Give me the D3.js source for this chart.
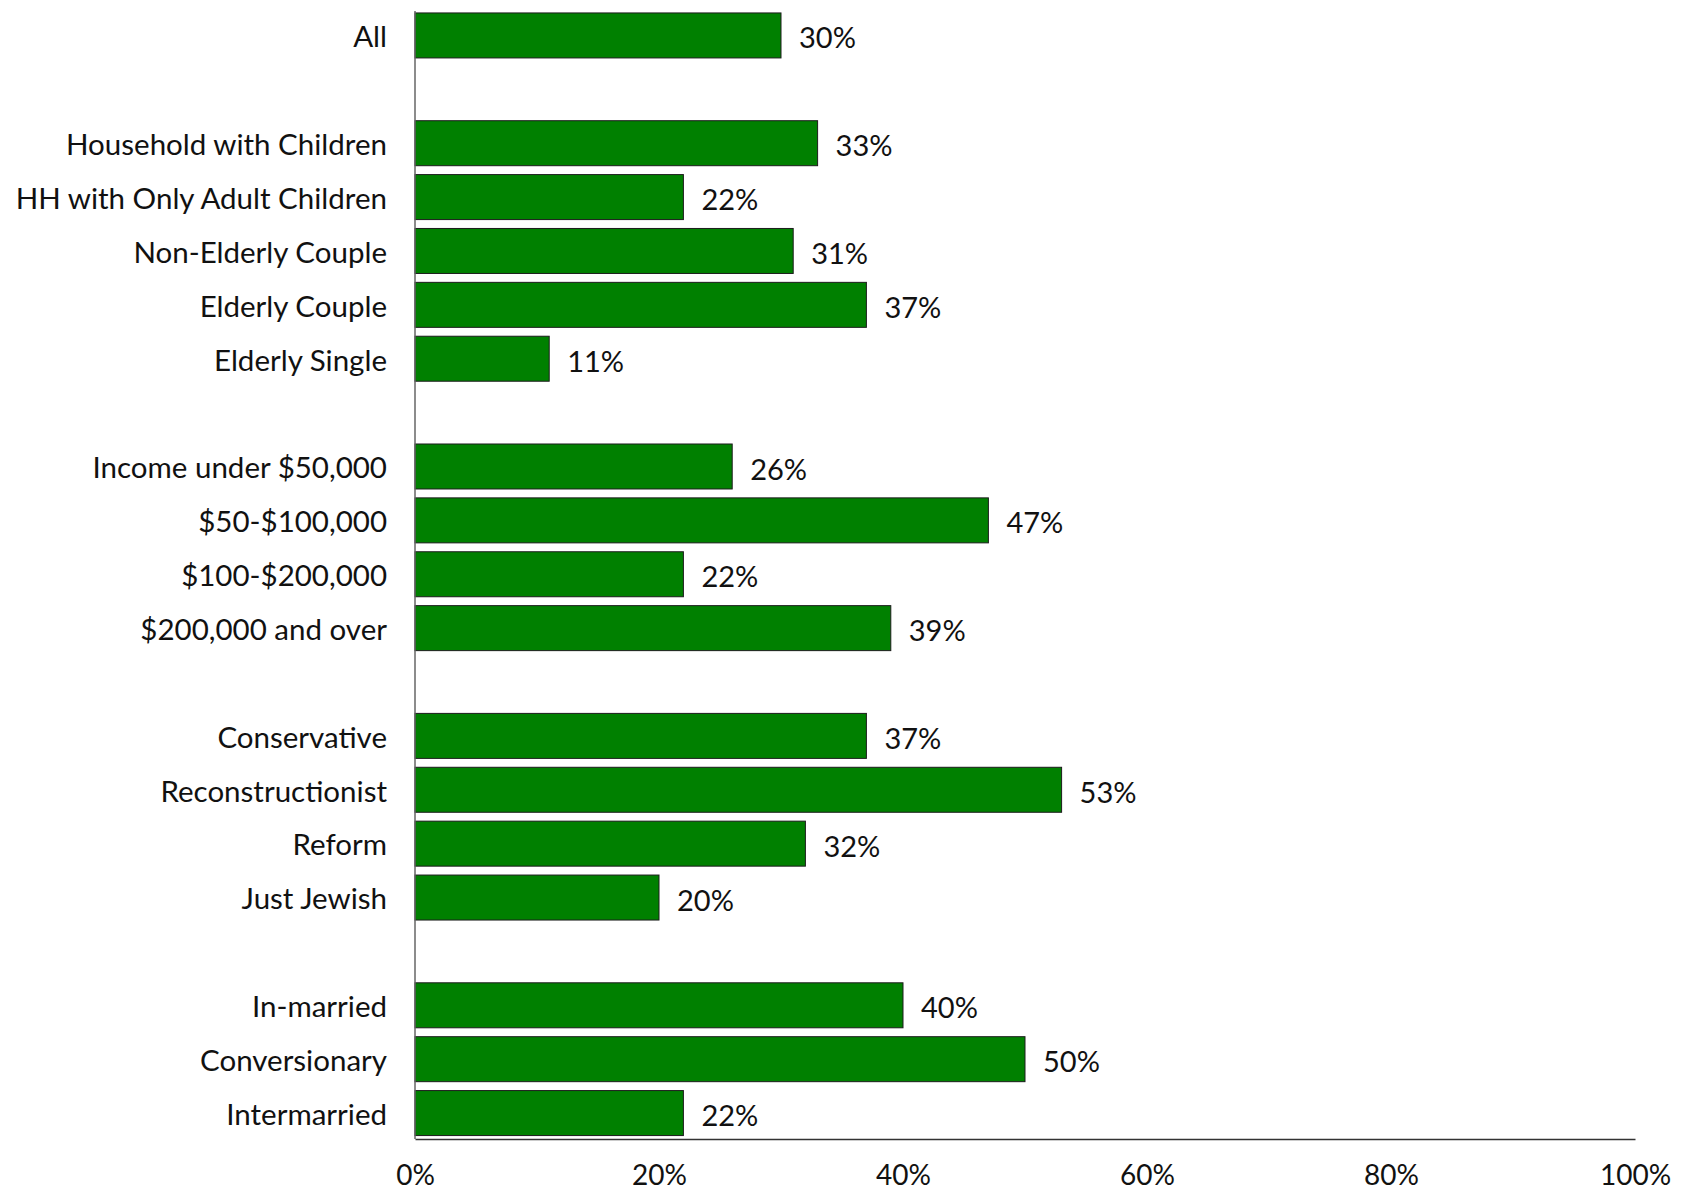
<!DOCTYPE html>
<html><head><meta charset="utf-8">
<script src="https://cdn.jsdelivr.net/npm/d3@7"></script>
<style>body{margin:0;background:#fff}svg{display:block}</style>
</head><body>
<svg id="c" width="1686" height="1193"></svg>
<script>
// slots: "" marks an empty gap row
const categories = ["All","",
 "Household with Children","HH with Only Adult Children","Non-Elderly Couple","Elderly Couple","Elderly Single","",
 "Income under $50,000","$50-$100,000","$100-$200,000","$200,000 and over","",
 "Conservative","Reconstructionist","Reform","Just Jewish","",
 "In-married","Conversionary","Intermarried"];
const values = [30,null,33,22,31,37,11,null,26,47,22,39,null,37,53,32,20,null,40,50,22];
const tickValues = [0,20,40,60,80,100];
const tickLabels = ["0%","20%","40%","60%","80%","100%"];

(function(){
const svg = d3.select("#c");
const font = "Lato, 'Open Sans', sans-serif";
const mLeft = 415, mRight = 1635, mTop = 8.5, mBottom = 1140;
const slots = categories.map((c,i)=>i);
const x = d3.scaleLinear().domain([0,100]).range([mLeft,mRight]);
const y = d3.scaleBand().domain(slots).range([mTop,mBottom]).paddingInner(0.165).paddingOuter(0.0825);

const data = categories.map((c,i)=>({c, v: values[i], i})).filter(d=>d.v!==null);

svg.append("g").selectAll("rect").data(data).join("rect")
  .attr("x", x(0)).attr("y", d=>y(d.i)).attr("width", d=>x(d.v)-x(0)).attr("height", y.bandwidth())
  .attr("fill","#008000").attr("stroke","#1c1c1c").attr("stroke-width",1);

svg.append("g").selectAll("text").data(data).join("text")
  .attr("x", mLeft-28).attr("y", d=>y(d.i)+y.bandwidth()/2).attr("dy","0.4em")
  .attr("text-anchor","end").attr("font-family",font).attr("font-size",29.5).attr("fill","#111")
  .text(d=>d.c);

svg.append("g").selectAll("text").data(data).join("text")
  .attr("x", d=>x(d.v)+18).attr("y", d=>y(d.i)+y.bandwidth()/2).attr("dy","0.45em")
  .attr("font-family",font).attr("font-size",29).attr("fill","#111")
  .text(d=>d.v+"%");

svg.append("line").attr("x1",mLeft).attr("x2",mLeft).attr("y1",11).attr("y2",mBottom-1)
  .attr("stroke","#666").attr("stroke-width",1.5);
const xAxis = d3.axisBottom(x).tickValues(tickValues).tickFormat((d,i)=>tickLabels[i]).tickSize(0).tickPadding(26);
const gx = svg.append("g").attr("transform",`translate(0,${mBottom-1})`).call(xAxis);
gx.select(".domain").attr("stroke","#333").attr("stroke-width",1.5);
gx.selectAll("text").attr("font-family",font).attr("font-size",28).attr("fill","#111");
})();
</script>
</body></html>
